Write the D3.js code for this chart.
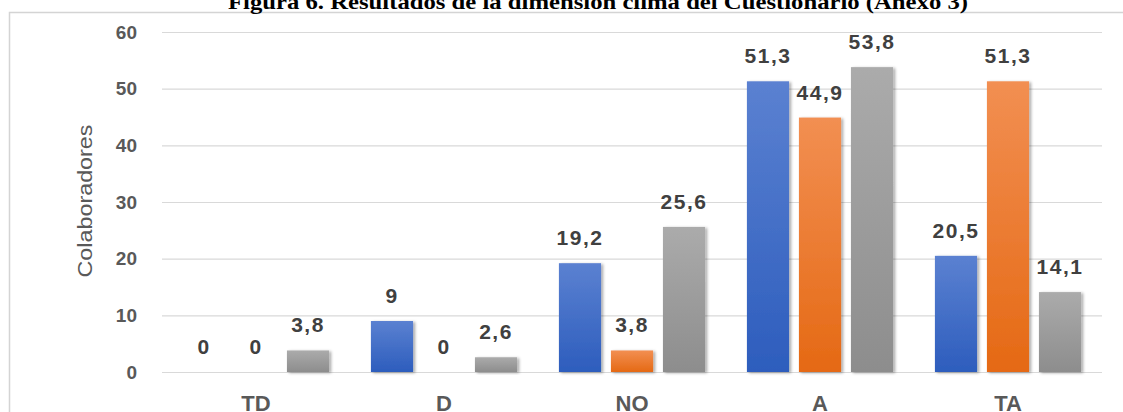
<!DOCTYPE html>
<html>
<head>
<meta charset="utf-8">
<script src="https://cdn.jsdelivr.net/npm/d3@7"></script>
<style>
  html, body { margin: 0; padding: 0; background: #fff; }
  svg { display: block; }
</style>
</head>
<body>
<div id="chart"></div>
<script>
// ---------------- DATA ----------------

const categories = ["TD", "D", "NO", "A", "TA"];
const seriesNames = ["s1", "s2", "s3"];
const blueValues = [0, 9, 19.2, 51.3, 20.5];
const orangeValues = [0, 0, 3.8, 44.9, 51.3];
const grayValues = [3.8, 2.6, 25.6, 53.8, 14.1];
const yTicks = [0, 10, 20, 30, 40, 50, 60];
const titleText = "Figura 6. Resultados de la dimensión clima del Cuestionario (Anexo 3)";
const yTitle = "Colaboradores";

// ---------------- SETUP ----------------

const width = 1123, height = 412;
const margin = { top: 32, right: 21, bottom: 40, left: 162 };

const svg = d3.select("#chart")
  .append("svg")
  .attr("width", width)
  .attr("height", height);

const defs = svg.append("defs");

const gradients = [
  ["g-s1", "#5b81d1", "#2d5dbd"],
  ["g-s2", "#f28f52", "#e56914"],
  ["g-s3", "#ababab", "#8d8d8d"],
];
gradients.forEach(([id, top, bottom]) => {
  const g = defs.append("linearGradient")
    .attr("id", id)
    .attr("x1", 0).attr("y1", 0).attr("x2", 0).attr("y2", 1);
  g.append("stop").attr("offset", "0%").attr("stop-color", top);
  g.append("stop").attr("offset", "100%").attr("stop-color", bottom);
});

defs.append("filter")
  .attr("id", "shadow")
  .attr("x", "-20%").attr("y", "-10%").attr("width", "150%").attr("height", "130%")
  .append("feDropShadow")
  .attr("dx", 2).attr("dy", 1)
  .attr("stdDeviation", 1.6)
  .attr("flood-color", "#000")
  .attr("flood-opacity", 0.35);

// frame
svg.append("path")
  .attr("d", `M9.5,${height} V12.5 H${width}`)
  .attr("fill", "none")
  .attr("stroke", "#d4d4d4")
  .attr("stroke-width", 1.5);

// title (its top is clipped by the page edge, as in the reference)
svg.append("text")
  .attr("x", 598)
  .attr("y", 9)
  .attr("text-anchor", "middle")
  .attr("font-family", "'Liberation Serif', 'Times New Roman', serif")
  .attr("font-weight", "bold")
  .attr("font-size", 21)
  .attr("textLength", 740)
  .attr("lengthAdjust", "spacingAndGlyphs")
  .attr("fill", "#000")
  .text(titleText);

// ---------------- SCALES ----------------

const y = d3.scaleLinear()
  .domain([0, 60])
  .range([372, 32]);

const x0 = d3.scaleBand()
  .domain(categories)
  .range([margin.left, width - margin.right])
  .paddingInner(0.17)
  .paddingOuter(0.085);

const x1 = d3.scaleBand()
  .domain(seriesNames)
  .range([0, x0.bandwidth()])
  .paddingInner(0.19)
  .paddingOuter(0.095);

// ---------------- GRID + AXES ----------------

svg.append("g")
  .attr("class", "grid")
  .attr("transform", `translate(${margin.left},0)`)
  .call(d3.axisLeft(y).tickValues(yTicks)
    .tickSize(-(width - margin.left - margin.right)).tickFormat(""))
  .call(g => g.select(".domain").remove())
  .call(g => g.selectAll("line").attr("stroke", "#d9d9d9").attr("stroke-width", 1.2));

svg.append("g")
  .attr("transform", `translate(137,0)`)
  .call(d3.axisLeft(y).tickValues(yTicks).tickSize(0).tickPadding(0))
  .call(g => g.select(".domain").remove())
  .call(g => g.selectAll("text")
    .attr("font-family", "'Liberation Sans', Arial, sans-serif")
    .attr("font-weight", "bold")
    .attr("font-size", 19)
    .attr("fill", "#595959"));

svg.append("g")
  .attr("transform", `translate(0,${y(0)})`)
  .call(d3.axisBottom(x0).tickSize(0).tickPadding(23))
  .call(g => g.select(".domain").remove())
  .call(g => g.selectAll("text")
    .attr("font-family", "'Liberation Sans', Arial, sans-serif")
    .attr("font-weight", "bold")
    .attr("font-size", 22)
    .attr("fill", "#595959"));

svg.append("text")
  .attr("transform", `translate(92,201) rotate(-90)`)
  .attr("text-anchor", "middle")
  .attr("font-family", "'Liberation Sans', Arial, sans-serif")
  .attr("font-size", 20)
  .attr("textLength", 153)
  .attr("lengthAdjust", "spacingAndGlyphs")
  .attr("fill", "#595959")
  .text(yTitle);

// ---------------- BARS ----------------

const rows = categories.map((c, i) => ({
  category: c,
  values: [
    { key: "s1", value: blueValues[i] },
    { key: "s2", value: orangeValues[i] },
    { key: "s3", value: grayValues[i] },
  ],
}));

const groups = svg.append("g")
  .selectAll("g")
  .data(rows)
  .join("g")
  .attr("transform", d => `translate(${x0(d.category)},0)`);

groups.selectAll("rect")
  .data(d => d.values.filter(v => v.value > 0))
  .join("rect")
  .attr("x", d => x1(d.key))
  .attr("y", d => y(d.value))
  .attr("width", x1.bandwidth())
  .attr("height", d => y(0) - y(d.value))
  .attr("fill", d => `url(#g-${d.key})`)
  .attr("filter", "url(#shadow)");

groups.selectAll("text")
  .data(d => d.values)
  .join("text")
  .attr("x", d => x1(d.key) + x1.bandwidth() / 2)
  .attr("y", d => y(d.value) - 18)
  .attr("text-anchor", "middle")
  .attr("font-family", "'Liberation Sans', Arial, sans-serif")
  .attr("font-weight", "bold")
  .attr("font-size", 21)
  .attr("letter-spacing", 1.5)
  .attr("fill", "#404040")
  .text(d => String(d.value).replace(".", ","));
</script>
</body>
</html>
